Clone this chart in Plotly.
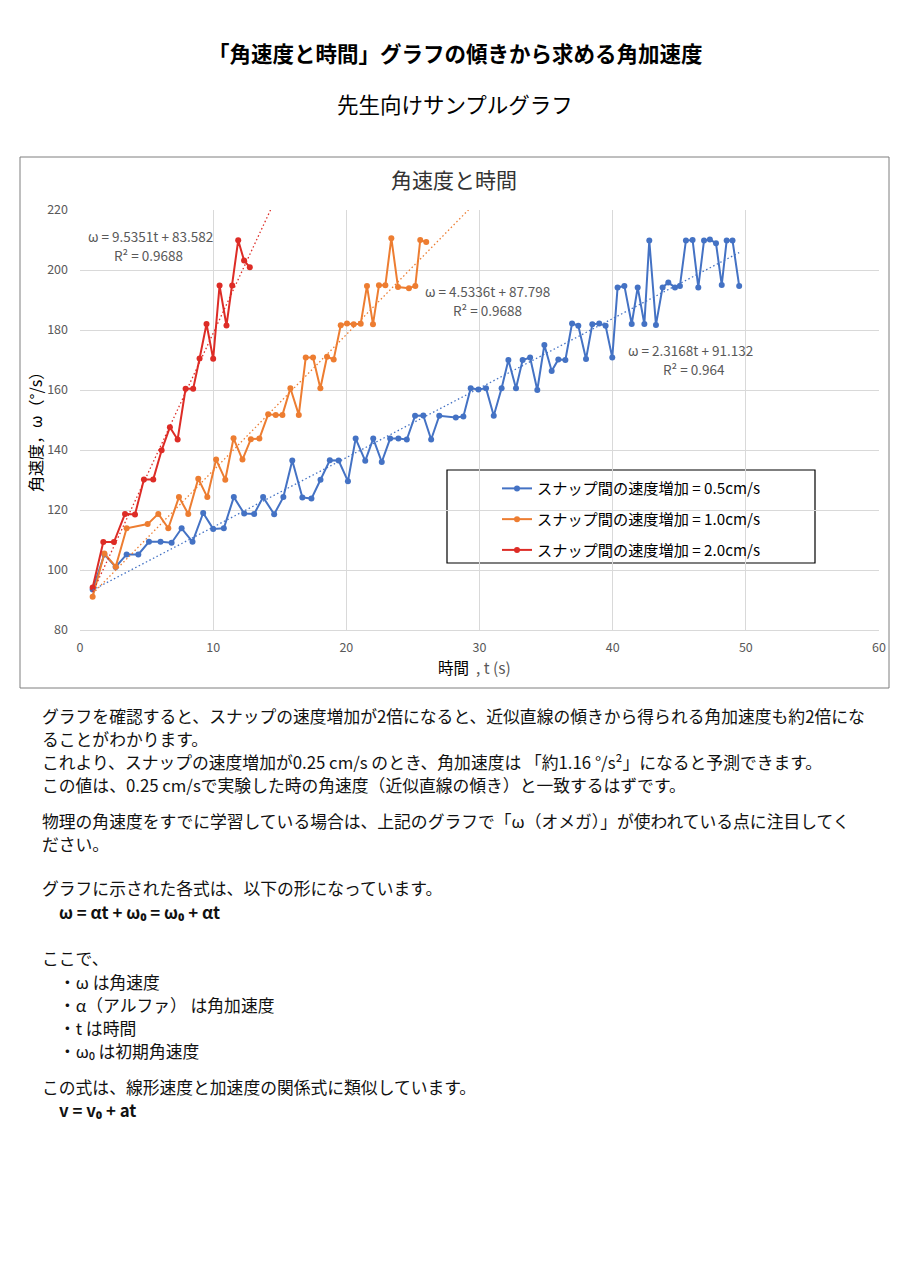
import plotly.graph_objects as go

FONT = '"Noto Sans CJK JP", "Noto Sans", sans-serif'
GRAY = "#595959"
GRID = "#d9d9d9"

# --- data --------------------------------------------------------------
t_05 = [0.95, 1.83, 2.68, 3.5, 4.38, 5.18, 6.05, 6.88, 7.63, 8.45, 9.25, 10.0,
        10.8, 11.55, 12.33, 13.08, 13.75, 14.58, 15.27, 15.94, 16.7, 17.38,
        18.06, 18.76, 19.42, 20.12, 20.7, 21.42, 22.02, 22.66, 23.29, 23.91,
        24.54, 25.16, 25.78, 26.37, 26.98, 28.22, 28.79, 29.34, 29.92, 30.49,
        31.07, 31.66, 32.17, 32.74, 33.24, 33.8, 34.34, 34.87, 35.42, 35.92,
        36.45, 36.95, 37.42, 38.0, 38.47, 38.99, 39.47, 39.97, 40.37, 40.88,
        41.43, 41.88, 42.38, 42.75, 43.25, 43.75, 44.18, 44.68, 45.05, 45.5,
        46.0, 46.43, 46.86, 47.3, 47.76, 48.19, 48.56, 49.0, 49.5]
w_05 = [93.5, 105.2, 101.0, 105.2, 105.2, 109.4, 109.4, 109.1, 113.9, 109.4,
        119.0, 113.7, 113.9, 124.3, 118.8, 118.7, 124.3, 118.6, 124.3, 136.5,
        124.2, 123.8, 130.1, 136.6, 136.5, 129.6, 143.8, 136.4, 143.8, 136.0,
        143.8, 143.8, 143.5, 151.4, 151.5, 143.5, 151.4, 150.8, 151.2, 160.6,
        160.2, 160.6, 151.4, 160.6, 170.0, 160.6, 170.0, 170.8, 160.0, 175.0,
        166.3, 170.2, 170.0, 182.2, 181.4, 170.3, 181.9, 182.2, 181.4, 170.8,
        194.2, 194.7, 182.0, 194.2, 182.0, 209.8, 181.7, 194.2, 195.8, 194.2,
        194.7, 209.8, 210.0, 194.2, 209.8, 210.2, 208.9, 195.0, 209.8, 209.8,
        194.7]

t_10 = [0.95, 1.83, 2.68, 3.5, 5.08, 5.88, 6.63, 7.43, 8.13, 8.88, 9.56, 10.22,
        10.91, 11.53, 12.2, 12.83, 13.47, 14.13, 14.7, 15.2, 15.8, 16.43, 16.95,
        17.5, 18.05, 18.55, 19.05, 19.58, 20.05, 20.55, 21.08, 21.55, 22.0,
        22.45, 22.93, 23.38, 23.88, 24.7, 25.18, 25.55, 26.0]
w_10 = [91.1, 105.5, 101.1, 113.9, 115.3, 118.7, 113.9, 124.3, 118.7, 130.4,
        124.3, 136.8, 130.1, 143.9, 136.8, 143.6, 143.8, 151.9, 151.7, 151.7,
        160.6, 151.7, 170.8, 170.8, 160.6, 171.1, 170.2, 181.6, 182.2, 181.9,
        182.1, 194.7, 181.9, 194.9, 194.9, 210.6, 194.3, 193.9, 194.7, 210.0,
        209.3]

t_20 = [0.95, 1.75, 2.55, 3.38, 4.13, 4.8, 5.5, 6.13, 6.75, 7.33, 7.93, 8.5,
        8.98, 9.5, 10.0, 10.48, 11.0, 11.43, 11.88, 12.32, 12.75]
w_20 = [94.2, 109.3, 109.3, 118.7, 118.5, 130.2, 130.2, 139.9, 147.6, 143.5,
        160.4, 160.4, 170.5, 182.0, 170.4, 194.8, 181.5, 194.8, 209.9, 203.2,
        200.9]

series_names = ["スナップ間の速度増加 = 0.5cm/s", "スナップ間の速度増加 = 1.0cm/s",
                "スナップ間の速度増加 = 2.0cm/s"]
series_colors = ["#4472C4", "#ED7D31", "#DD2C26"]
slopes = [2.3168, 4.5336, 9.5351]
intercepts = [91.132, 87.798, 83.582]
r_squared = ["0.964", "0.9688", "0.9688"]
trend_end = [49.5, 29.5, 15.0]   # forecast reach of each trendline

x_ticks = [0, 10, 20, 30, 40, 50, 60]
y_ticks = [80, 100, 120, 140, 160, 180, 200, 220]

page_title = "「角速度と時間」グラフの傾きから求める角加速度"
page_subtitle = "先生向けサンプルグラフ"
chart_title = "角速度と時間"

# (text, line centre in page px, bold, indented)
body_lines = [
    ("グラフを確認すると、スナップの速度増加が2倍になると、近似直線の傾きから得られる角加速度も約2倍にな", 716, False, False),
    ("ることがわかります。", 739, False, False),
    ("これより、スナップの速度増加が0.25 cm/s のとき、角加速度は 「約1.16 °/s²」になると予測できます。", 762, False, False),
    ("この値は、0.25 cm/sで実験した時の角速度（近似直線の傾き）と一致するはずです。", 785, False, False),
    ("物理の角速度をすでに学習している場合は、上記のグラフで「ω（オメガ）」が使われている点に注目してく", 821, False, False),
    ("ださい。", 844, False, False),
    ("グラフに示された各式は、以下の形になっています。", 888, False, False),
    ("ω = αt + ω₀ = ω₀ + αt", 912, True, True),
    ("ここで、", 958, False, False),
    ("・ω は角速度", 982, False, True),
    ("・α（アルファ） は角加速度", 1005, False, True),
    ("・t は時間", 1028, False, True),
    ("・ω₀ は初期角速度", 1051, False, True),
    ("この式は、線形速度と加速度の関係式に類似しています。", 1087, False, False),
    ("v = v₀ + at", 1110, True, True),
]

# plot area in page pixels; the page body adds an 8px margin around the figure
OFF = 8
W, H = 900, 1275
PL, PR, PT, PB = 80, 879, 210, 630


def px(x):
    return (x - PL) / (PR - PL)


def py(y):
    return (PB - y) / (PB - PT)


def note(x, y, text, **kw):
    fig.add_annotation(x=px(x), y=py(y), xref="paper", yref="paper", text=text,
                       showarrow=False, xanchor=kw.pop("xanchor", "center"),
                       yanchor="middle", **kw)


fig = go.Figure()

for i, (tt, ww) in enumerate([(t_05, w_05), (t_10, w_10), (t_20, w_20)]):
    fig.add_trace(go.Scatter(
        x=tt, y=ww, mode="lines+markers", name=series_names[i],
        legendgroup=f"g{i}",
        line=dict(color=series_colors[i], width=2),
        marker=dict(color=series_colors[i], size=6),
    ))

for i, tt in enumerate([t_05, t_10, t_20]):
    tx = [min(tt), trend_end[i]]
    fig.add_trace(go.Scatter(
        x=tx, y=[slopes[i] * v + intercepts[i] for v in tx], mode="lines",
        line=dict(color=series_colors[i], width=1.3, dash="1.5px,2.5px"),
        showlegend=False, hoverinfo="skip",
    ))

# trendline labels: equation line and R² line
eq_pos = [(690, 350, 694, 369), (488, 291, 488, 310), (150, 236, 148, 255)]
for i in range(3):
    ex, ey, rx, ry = eq_pos[i]
    note(ex, ey, f"ω = {slopes[i]}t + {intercepts[i]}", font=dict(size=13.5, color=GRAY))
    note(rx, ry, f"R² = {r_squared[i]}", font=dict(size=13.5, color=GRAY))

# page texts
note(455, 52, f"<b>{page_title}</b>", font=dict(size=21.5, color="#000000"))
note(455, 103, page_subtitle, font=dict(size=21.5, color="#000000"))
note(454, 179, chart_title, font=dict(size=21, color="#333333"))
note(474, 667, "時間  <span style='color:#595959'>, t (s)</span>",
     font=dict(size=15.5, color="#000000"))
note(35, 428, "角速度，ω（°/s）", textangle=-90, font=dict(size=16, color="#000000"))

for text, y, bold, indent in body_lines:
    note(57 if indent else 40, y, f"<b>{text}</b>" if bold else text, xanchor="left",
         font=dict(size=16.8, color="#111111"))

# chart frame and legend frame
fig.add_shape(type="rect", xref="paper", yref="paper", x0=px(20), x1=px(889),
              y0=py(688), y1=py(157), line=dict(color="#7f7f7f", width=1))
fig.add_shape(type="rect", xref="paper", yref="paper", x0=px(447), x1=px(815),
              y0=py(563), y1=py(470), line=dict(color="#000000", width=1.2),
              fillcolor="white", layer="below")

fig.update_layout(
    width=W, height=H,
    margin=dict(l=PL - OFF, r=W - (PR - OFF), t=PT - OFF, b=H - (PB - OFF)),
    paper_bgcolor="white", plot_bgcolor="white",
    font=dict(family=FONT, color=GRAY),
    showlegend=True,
    legend=dict(x=px(497), y=py(472), xanchor="left", yanchor="top",
                bgcolor="rgba(0,0,0,0)", borderwidth=0, tracegroupgap=8,
                font=dict(size=15.2, color="#000000")),
    xaxis=dict(range=[0, 60], tickvals=x_ticks, showgrid=True, gridcolor=GRID,
               zeroline=False, showline=True, linecolor=GRID,
               tickfont=dict(size=12.5, color=GRAY), ticklabelstandoff=6),
    yaxis=dict(range=[80, 220], tickvals=y_ticks, showgrid=True, gridcolor=GRID,
               zeroline=False, tickfont=dict(size=12.5, color=GRAY),
               ticklabelstandoff=11),
)

fig.write_html("out.html")
